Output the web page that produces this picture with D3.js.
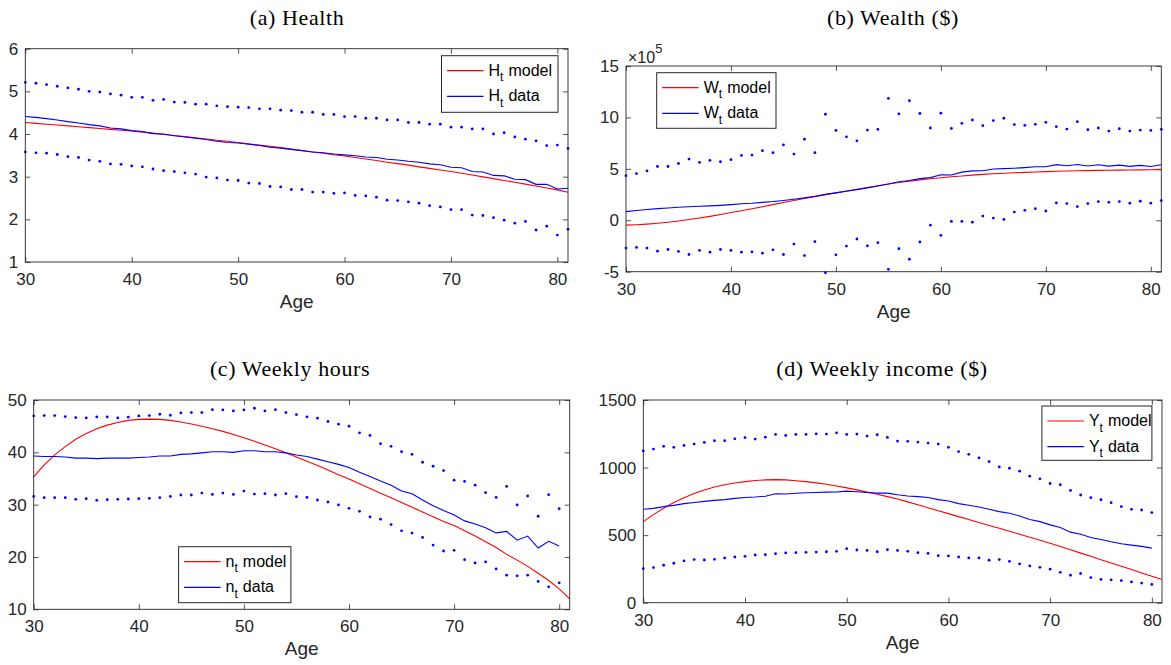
<!DOCTYPE html>
<html>
<head>
<meta charset="utf-8">
<script src="https://cdn.jsdelivr.net/npm/d3@7"></script>
<style>
  body { margin: 0; background: #fff }
  svg { display: block }
</style>
</head>
<body>
<svg id="chart" width="1171" height="665"></svg>
<script>
const ages = [30, 31, 32, 33, 34, 35, 36, 37, 38, 39, 40, 41, 42, 43, 44, 45, 46, 47, 48, 49,
  50, 51, 52, 53, 54, 55, 56, 57, 58, 59, 60, 61, 62, 63, 64, 65, 66, 67, 68, 69,
  70, 71, 72, 73, 74, 75, 76, 77, 78, 79, 80, 81]
const xTicks = [30, 40, 50, 60, 70, 80]

// (a) health
const healthModel = [4.27, 4.25, 4.23, 4.21, 4.19, 4.17, 4.15, 4.13, 4.11, 4.09, 4.07, 4.045, 4.02, 3.99, 3.965, 3.94, 3.91, 3.885, 3.855, 3.83,
  3.80, 3.77, 3.74, 3.71, 3.68, 3.645, 3.615, 3.58, 3.55, 3.515, 3.485, 3.45, 3.415, 3.38, 3.34, 3.305, 3.27, 3.23, 3.195, 3.155,
  3.12, 3.08, 3.04, 2.995, 2.955, 2.91, 2.87, 2.825, 2.78, 2.735, 2.69, 2.635]
const healthData = [4.41, 4.39, 4.36, 4.33, 4.29, 4.26, 4.22, 4.19, 4.14, 4.12, 4.08, 4.06, 4.01, 4.00, 3.96, 3.93, 3.90, 3.87, 3.83, 3.80,
  3.79, 3.76, 3.73, 3.69, 3.67, 3.64, 3.61, 3.58, 3.56, 3.53, 3.51, 3.49, 3.46, 3.45, 3.41, 3.39, 3.36, 3.34, 3.30, 3.28,
  3.22, 3.21, 3.12, 3.11, 3.03, 3.02, 2.94, 2.93, 2.82, 2.82, 2.71, 2.73]
const healthUpper = [5.21, 5.19, 5.16, 5.12, 5.08, 5.05, 5.00, 4.985, 4.94, 4.91, 4.86, 4.86, 4.79, 4.81, 4.75, 4.74, 4.70, 4.70, 4.66, 4.64,
  4.63, 4.62, 4.59, 4.59, 4.56, 4.55, 4.51, 4.51, 4.46, 4.46, 4.41, 4.41, 4.37, 4.37, 4.33, 4.33, 4.27, 4.27, 4.23, 4.23,
  4.16, 4.16, 4.12, 4.12, 4.00, 4.03, 3.93, 3.88, 3.84, 3.73, 3.74, 3.66]
const healthLower = [3.58, 3.56, 3.55, 3.52, 3.47, 3.45, 3.39, 3.36, 3.30, 3.29, 3.25, 3.23, 3.18, 3.14, 3.12, 3.09, 3.06, 2.99, 2.97, 2.92,
  2.91, 2.85, 2.84, 2.77, 2.76, 2.70, 2.70, 2.64, 2.64, 2.61, 2.62, 2.56, 2.55, 2.52, 2.45, 2.44, 2.41, 2.38, 2.32, 2.29,
  2.23, 2.23, 2.10, 2.09, 2.04, 1.98, 1.91, 1.95, 1.75, 1.84, 1.63, 1.77]

// (b) wealth, in units of 1e5
const wealthModel = [-0.47, -0.43, -0.37, -0.29, -0.19, -0.07, 0.07, 0.22, 0.38, 0.56, 0.75, 0.93, 1.12, 1.32, 1.52, 1.72, 1.92, 2.11, 2.30, 2.49,
  2.66, 2.84, 3.01, 3.18, 3.35, 3.52, 3.67, 3.81, 3.93, 4.04, 4.14, 4.23, 4.31, 4.39, 4.46, 4.52, 4.57, 4.62, 4.66, 4.70,
  4.73, 4.76, 4.79, 4.81, 4.83, 4.85, 4.87, 4.88, 4.89, 4.90, 4.91, 4.92]
const wealthData = [0.84, 0.95, 1.05, 1.13, 1.20, 1.27, 1.32, 1.36, 1.40, 1.45, 1.52, 1.60, 1.65, 1.74, 1.82, 1.93, 2.05, 2.18, 2.33, 2.52,
  2.66, 2.82, 2.98, 3.15, 3.33, 3.52, 3.74, 3.86, 4.05, 4.15, 4.42, 4.40, 4.68, 4.80, 4.82, 4.98, 5.02, 5.06, 5.12, 5.20,
  5.21, 5.41, 5.30, 5.42, 5.28, 5.40, 5.27, 5.36, 5.24, 5.34, 5.23, 5.40]
const wealthUpper = [4.34, 4.54, 4.80, 5.23, 5.23, 5.52, 5.95, 5.62, 5.82, 5.69, 5.89, 6.31, 6.34, 6.77, 6.57, 7.33, 6.44, 7.89, 6.57, 10.31,
  8.74, 8.11, 7.72, 8.77, 8.84, 11.85, 10.34, 11.62, 10.38, 8.97, 10.41, 8.93, 9.43, 9.75, 9.20, 9.69, 9.92, 9.30, 9.23, 9.33,
  9.52, 9.10, 8.87, 9.59, 8.80, 8.97, 8.67, 8.90, 8.67, 8.77, 8.74, 8.84]
const wealthLower = [-2.70, -2.64, -2.70, -3.00, -2.84, -3.03, -3.33, -2.93, -3.10, -2.84, -2.93, -3.10, -3.07, -3.20, -2.87, -3.33, -2.31, -3.43, -2.08, -5.10,
  -3.36, -2.51, -1.82, -2.48, -2.18, -4.77, -2.77, -3.79, -2.11, -0.48, -1.46, -0.11, -0.11, -0.18, 0.41, 0.21, 0.08, 0.80, 0.97, 1.13,
  0.90, 1.69, 1.62, 1.33, 1.62, 1.82, 1.75, 1.82, 1.66, 1.85, 1.66, 1.92]

// (c) weekly hours
const hoursModel = [35.3, 37.6, 39.5, 41.1, 42.5, 43.6, 44.5, 45.2, 45.7, 46.1, 46.3, 46.35, 46.3, 46.1, 45.8, 45.4, 45.0, 44.5, 44.0, 43.4,
  42.8, 42.1, 41.4, 40.7, 39.9, 39.1, 38.3, 37.5, 36.6, 35.7, 34.9, 34.0, 33.1, 32.2, 31.3, 30.4, 29.5, 28.6, 27.7, 26.8,
  26.0, 25.0, 24.0, 22.9, 21.8, 20.5, 19.4, 18.2, 16.9, 15.5, 13.9, 12.0]
const hoursData = [39.3, 39.2, 39.2, 39.1, 38.9, 38.9, 38.8, 38.9, 38.9, 38.9, 39.0, 39.1, 39.3, 39.3, 39.6, 39.7, 39.9, 40.1, 40.1, 40.0,
  40.3, 40.3, 40.1, 40.1, 39.9, 39.5, 39.2, 38.7, 38.2, 37.7, 37.1, 36.2, 35.4, 34.5, 33.7, 32.6, 32.1, 30.9, 29.8, 28.9,
  28.0, 26.9, 26.3, 25.6, 24.6, 24.9, 23.2, 24.0, 21.7, 23.0, 22.1]
const hoursUpper = [46.96, 47.03, 47.03, 46.84, 46.65, 46.58, 46.77, 46.77, 46.58, 46.71, 46.96, 47.03, 47.28, 47.09, 47.53, 47.59, 47.59, 48.16, 48.10, 47.91,
  48.10, 48.42, 47.91, 48.16, 47.59, 47.22, 46.77, 46.52, 45.89, 45.38, 45.00, 43.73, 43.23, 41.65, 41.14, 40.13, 39.62, 38.10, 37.34, 36.52,
  34.68, 34.43, 33.73, 32.28, 31.39, 33.48, 29.94, 31.65, 27.78, 31.90, 29.24]
const hoursLower = [31.58, 31.33, 31.33, 31.33, 31.01, 31.14, 30.82, 30.95, 31.01, 31.08, 31.14, 31.20, 31.33, 31.58, 31.84, 31.84, 32.22, 31.96, 32.22, 31.96,
  32.59, 32.03, 32.09, 31.84, 32.09, 31.52, 31.39, 30.89, 30.51, 29.94, 29.30, 28.73, 27.66, 27.22, 26.20, 25.00, 24.56, 23.73, 22.28, 21.14,
  21.27, 19.49, 18.86, 19.05, 17.72, 16.52, 16.39, 16.52, 15.32, 14.30, 15.06]

// (d) weekly income
const incomeModel = [600, 652, 699, 741, 777, 808, 834, 856, 873, 886, 896, 904, 909, 911, 909, 903, 896, 887, 876, 864,
  850, 835, 818, 802, 785, 767, 746, 725, 703, 681, 659, 637, 615, 594, 572, 551, 529, 507, 485, 462,
  440, 416, 392, 367, 343, 318, 294, 269, 245, 220, 196, 171]
const incomeData = [691, 698, 711, 720, 733, 742, 750, 757, 763, 772, 779, 782, 788, 806, 804, 810, 814, 816, 818, 819,
  826, 821, 816, 811, 811, 799, 790, 785, 779, 763, 752, 733, 721, 708, 691, 674, 662, 642, 615, 600,
  576, 556, 522, 507, 483, 468, 451, 436, 426, 417, 404]
const incomeUpper = [1123, 1137, 1157, 1150, 1164, 1174, 1186, 1199, 1199, 1213, 1221, 1211, 1225, 1245, 1238, 1245, 1245, 1250, 1248, 1257,
  1245, 1248, 1233, 1243, 1223, 1196, 1194, 1189, 1181, 1174, 1150, 1118, 1098, 1071, 1044, 1005, 995, 973, 936, 917,
  882, 873, 831, 797, 777, 762, 740, 711, 691, 686, 667]
const incomeLower = [252, 260, 277, 292, 309, 319, 316, 321, 331, 338, 343, 353, 355, 363, 368, 370, 373, 375, 377, 380,
  400, 390, 387, 377, 392, 387, 380, 370, 365, 348, 346, 338, 331, 331, 314, 319, 306, 287, 272, 262,
  248, 225, 203, 216, 186, 172, 169, 164, 154, 145, 135]

const SANS = "'Liberation Sans', Arial, Helvetica, sans-serif"
const SERIF = "'Liberation Serif', 'Times New Roman', serif"
const INK = '#262626'

const panels = [
  {
    title: '(a) Health', titleX: 297, titleY: 24.5,
    box: [25.3, 48.7, 568, 262], yDomain: [1, 6], yTicks: [1, 2, 3, 4, 5, 6],
    sym: 'H', model: healthModel, data: healthData, upper: healthUpper, lower: healthLower,
    legend: [441.5, 55.7, 116.5, 56.6]
  },
  {
    title: '(b) Wealth ($)', titleX: 893, titleY: 24.5,
    box: [626, 66, 1161.3, 271.7], yDomain: [-5, 15], yTicks: [-5, 0, 5, 10, 15],
    sym: 'W', model: wealthModel, data: wealthData, upper: wealthUpper, lower: wealthLower,
    legend: [656.7, 72.7, 119.3, 55.6], exponent: true
  },
  {
    title: '(c) Weekly hours', titleX: 290, titleY: 376,
    box: [33.7, 400, 569.7, 609.3], yDomain: [10, 50], yTicks: [10, 20, 30, 40, 50],
    sym: 'n', model: hoursModel, data: hoursData, upper: hoursUpper, lower: hoursLower,
    legend: [178.6, 546.7, 112.3, 56]
  },
  {
    title: '(d) Weekly income ($)', titleX: 882, titleY: 376,
    box: [643.3, 400, 1162, 602.7], yDomain: [0, 1500], yTicks: [0, 500, 1000, 1500],
    sym: 'Y', model: incomeModel, data: incomeData, upper: incomeUpper, lower: incomeLower,
    legend: [1041.9, 406, 110, 54.3]
  }
]

const svg = d3.select('#chart')

function styleAxis (g) {
  g.select('.domain').remove()
  g.attr('font-family', SANS).attr('font-size', 17)
  g.selectAll('line').attr('stroke', INK).attr('stroke-width', 0.8)
  g.selectAll('text').attr('fill', INK)
}

function drawLegend (g, p) {
  const [lx, ly, lw, lh] = p.legend
  g.append('rect')
    .attr('x', lx).attr('y', ly).attr('width', lw).attr('height', lh)
    .attr('fill', '#fff').attr('stroke', INK).attr('stroke-width', 1)

  const items = [
    { label: 'model', color: '#ff0000', dy: 15 },
    { label: 'data', color: '#0000ff', dy: 40.7 }
  ]
  items.forEach(item => {
    const cy = ly + item.dy
    g.append('line')
      .attr('x1', lx + 5.5).attr('x2', lx + 42)
      .attr('y1', cy).attr('y2', cy)
      .attr('stroke', item.color).attr('stroke-width', 1.2)
    const t = g.append('text')
      .attr('x', lx + 47).attr('y', cy + 5)
      .attr('font-family', SANS).attr('font-size', 16).attr('fill', '#000')
    t.append('tspan').text(p.sym)
    t.append('tspan').attr('font-size', 12).attr('dy', 5.5).text('t')
    t.append('tspan').attr('dy', -5.5).attr('dx', 5).text(item.label)
  })
}

function drawPanel (p) {
  const [left, top, right, bottom] = p.box
  const x = d3.scaleLinear().domain([30, 81]).range([left, right])
  const y = d3.scaleLinear().domain(p.yDomain).range([bottom, top])
  const g = svg.append('g')

  g.append('rect')
    .attr('x', left).attr('y', top)
    .attr('width', right - left).attr('height', bottom - top)
    .attr('fill', '#fff')

  g.append('g')
    .attr('transform', `translate(0,${bottom})`)
    .call(d3.axisBottom(x).tickValues(xTicks).tickFormat(d => String(d))
      .tickSizeInner(-5).tickSizeOuter(0).tickPadding(11))
    .call(styleAxis)
  g.append('g')
    .attr('transform', `translate(0,${top})`)
    .call(d3.axisTop(x).tickValues(xTicks).tickFormat('')
      .tickSizeInner(-5).tickSizeOuter(0))
    .call(styleAxis)
  g.append('g')
    .attr('transform', `translate(${left},0)`)
    .call(d3.axisLeft(y).tickValues(p.yTicks).tickFormat(d => String(d))
      .tickSizeInner(-5).tickSizeOuter(0).tickPadding(7))
    .call(styleAxis)
  g.append('g')
    .attr('transform', `translate(${right},0)`)
    .call(d3.axisRight(y).tickValues(p.yTicks).tickFormat('')
      .tickSizeInner(-5).tickSizeOuter(0))
    .call(styleAxis)

  const line = d3.line()
    .x((d, i) => x(ages[i]))
    .y(d => y(d))

  g.append('path').datum(p.model)
    .attr('d', line).attr('fill', 'none')
    .attr('stroke', '#ff0000').attr('stroke-width', 1.1)
  g.append('path').datum(p.data)
    .attr('d', line).attr('fill', 'none')
    .attr('stroke', '#0000ff').attr('stroke-width', 1.1)

  const dots = p.upper.map((v, i) => ({ age: ages[i], v }))
    .concat(p.lower.map((v, i) => ({ age: ages[i], v })))
  g.append('g').selectAll('circle')
    .data(dots)
    .enter()
    .append('circle')
    .attr('cx', d => x(d.age))
    .attr('cy', d => y(d.v))
    .attr('r', 1.4)
    .attr('fill', '#0000ff')

  g.append('rect')
    .attr('x', left).attr('y', top)
    .attr('width', right - left).attr('height', bottom - top)
    .attr('fill', 'none').attr('stroke', INK).attr('stroke-width', 0.9)

  drawLegend(g, p)

  g.append('text')
    .attr('x', (left + right) / 2).attr('y', bottom + 46)
    .attr('text-anchor', 'middle')
    .attr('font-family', SANS).attr('font-size', 19).attr('fill', INK)
    .text('Age')

  g.append('text')
    .attr('x', p.titleX).attr('y', p.titleY)
    .attr('text-anchor', 'middle')
    .attr('font-family', SERIF).attr('font-size', 22)
    .attr('letter-spacing', 0.6).attr('fill', '#000')
    .text(p.title)

  if (p.exponent) {
    const e = g.append('text')
      .attr('x', left + 2).attr('y', top - 3.5)
      .attr('font-family', SANS).attr('font-size', 16).attr('fill', INK)
    e.append('tspan').text('\u00d710')
    e.append('tspan').attr('font-size', 13).attr('dy', -9.5).text('5')
  }
}

panels.forEach(drawPanel)
</script>
</body>
</html>
